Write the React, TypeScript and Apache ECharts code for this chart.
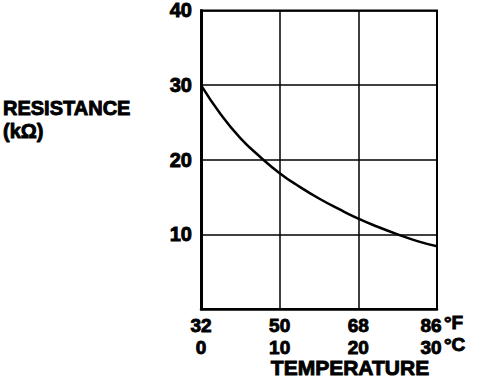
import React, { useEffect, useRef } from "react";
import * as echarts from "echarts";

const tempC = [0, 2.5, 5, 7.5, 10, 12.5, 15, 17.5, 20, 22.5, 25, 27.5, 30];
const resistance = [30, 26.1, 22.9, 20.4, 18.2, 16.4, 14.8, 13.4, 12.1, 11.0, 10.0, 9.1, 8.4];
const cTicks = [0, 10, 20, 30];
const fTicks = ["32", "50", "68", "86"];
const yTicks = [10, 20, 30, 40];

const FONT = "'Liberation Sans', Arial, sans-serif";
const heavy = { textBorderColor: "#000", textBorderWidth: 0.9 };

export default function App() {
  const ref = useRef<HTMLDivElement>(null);
  useEffect(() => {
    if (!ref.current) return;
    const chart = echarts.init(ref.current, undefined, { renderer: "svg" });
    const data = tempC.map((t, i) => [t, resistance[i]]);
    const lbl = { fontFamily: FONT, fontWeight: "bold", fontSize: 19, color: "#000", lineHeight: 22, ...heavy };
    chart.setOption({
      animation: false,
      backgroundColor: "#ffffff",
      grid: {
        left: 201,
        right: 59,
        top: 8,
        bottom: 73,
        show: true,
        borderColor: "#000",
        borderWidth: 2,
        backgroundColor: "transparent",
      },
      xAxis: {
        type: "value",
        min: 0,
        max: 30,
        interval: 10,
        axisLine: { show: true, lineStyle: { color: "#000", width: 2.5 } },
        axisTick: { show: false },
        splitLine: { show: true, lineStyle: { color: "#000", width: 1.5 } },
        axisLabel: {
          margin: 5,
          formatter: (v: number) => {
            const idx = cTicks.indexOf(v);
            if (idx === cTicks.length - 1) return `{a2|${fTicks[idx]}}\n{a2|${v}}`;
            return `{a|${fTicks[idx]}}\n{a|${v}}`;
          },
          rich: {
            a: { ...lbl },
            a2: { ...lbl, padding: [0, 12, 0, 0] },
          },
        },
      },
      yAxis: {
        type: "value",
        min: 0,
        max: 40,
        interval: 10,
        axisLine: { show: true, lineStyle: { color: "#000", width: 3 } },
        axisTick: { show: false },
        splitLine: { show: true, lineStyle: { color: "#000", width: 1.5 } },
        axisLabel: {
          margin: 9,
          fontFamily: FONT,
          fontWeight: "bold",
          fontSize: 20,
          color: "#000",
          ...heavy,
          formatter: (v: number) => (yTicks.includes(v) ? String(v) : ""),
        },
      },
      graphic: [
        {
          type: "text",
          x: 3,
          y: 98,
          style: { text: "RESISTANCE", font: `bold 20px ${FONT}`, fill: "#000", stroke: "#000", lineWidth: 0.9, verticalAlign: "top" },
        },
        {
          type: "text",
          x: 3,
          y: 121,
          style: { text: "(kΩ)", font: `bold 20px ${FONT}`, fill: "#000", stroke: "#000", lineWidth: 0.9, verticalAlign: "top" },
        },
        {
          type: "text",
          x: 444,
          y: 322,
          style: { text: "°F", font: `bold 19px ${FONT}`, fill: "#000", stroke: "#000", lineWidth: 0.9, verticalAlign: "middle" },
        },
        {
          type: "text",
          x: 444,
          y: 344,
          style: { text: "°C", font: `bold 19px ${FONT}`, fill: "#000", stroke: "#000", lineWidth: 0.9, verticalAlign: "middle" },
        },
        {
          type: "text",
          x: 350,
          y: 367,
          style: { text: "TEMPERATURE", font: `bold 21px ${FONT}`, fill: "#000", stroke: "#000", lineWidth: 0.9, align: "center", verticalAlign: "middle" },
        },
      ],
      series: [
        {
          type: "line",
          data,
          smooth: true,
          showSymbol: false,
          lineStyle: { color: "#000", width: 2.5 },
        },
      ],
    });
    return () => chart.dispose();
  }, []);
  return (
    <div
      ref={ref}
      style={{ position: "fixed", left: 0, top: 0, width: 496, height: 382, background: "#fff" }}
    />
  );
}
